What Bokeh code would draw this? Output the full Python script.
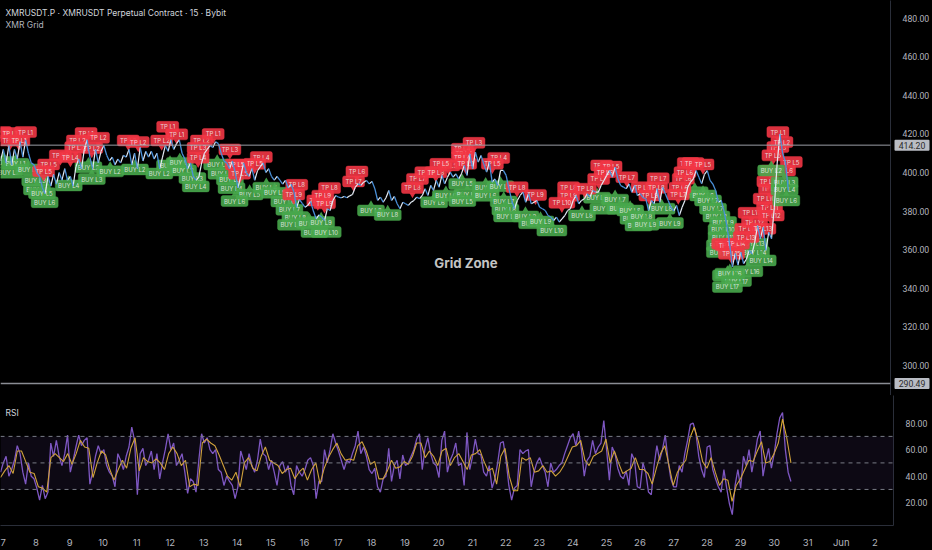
import numpy as np
from bokeh.plotting import figure
from bokeh.layouts import column, row
from bokeh.models import Range1d, FixedTicker, Span, BoxAnnotation, Label
from bokeh.core.properties import value
from bokeh.embed import file_html
from bokeh.resources import INLINE

title_text = "XMRUSDT.P · XMRUSDT Perpetual Contract · 15 · Bybit"
study_text = "XMR Grid"
zone_text = "Grid Zone"
rsi_text = "RSI"
upper_level = 414.20
lower_level = 290.49
price_ticks = [300, 320, 340, 360, 380, 400, 420, 440, 460, 480]
rsi_ticks = [20, 40, 60, 80]
rsi_guides = [30, 50, 70]
day_ticks = list(range(7, 34))
day_names = {32: "Jun", 33: "2"}

close = [406,412,405,414,404,412,407,416,408,417,410,405,404,400,398,392,389,398,393,399,394,400,396,402,396,398,393,403,407,402,412,417,408,402,412,405,411,414,409,406,408,404,407,405,409,408,412,404,410,402,413,406,411,408,411,407,410,402,408,414,411,417,412,415,417,410,407,402,405,398,396,397.6,405,410,412,414,413,416,415,410,406,405,402,406,400,392,398,405,400,398,402,396,401,403,405,400,402,398,396,398,396,394,396,392,394,390,382,386,384,382,383,385,380,376,378,
376.9,375.1,381.2,380.3,385.5,388.1,387.2,386.9,387.6,386.9,387.9,388.6,392.4,394.1,393.3,395,395.9,394.1,395.4,391.6,385.5,387.2,384.6,386.9,390.7,385.5,387.6,383.8,381.2,384.6,383.8,382.9,384.6,385.5,387.2,386.4,388.1,391.6,388.1,393.3,390.7,395.9,392.4,398.5,394.1,397.6,400.2,397.6,399.3,396.7,399.3,403.7,398.5,409.7,401.9,410.6,405.4,408.8,404.5,400.2,405.4,395,396.7,393.3,401.1,401.1,398.5,391.6,385.5,381.2,385.5,388.1,389.8,384.6,389,383.8,384.6,385.5,382,381.2,380.3,377.7,376.9,375.1,376.9,374.3,376,377.7,380.3,381.2,385.5,388.1,383.8,385.5,386.4,389,387.2,390.7,389.8,389.8,393.3,395.9,398.5,401.1,397.6,402.8,396.7,393.3,392.4,391.6,394.1,389.8,393.3,388.1,
389,387,386.4,380.3,385.5,383.8,391.6,384.6,392.4,389,385.5,382,380,382.9,377.7,382,385.5,392.4,395,396.7,401,397.6,394.2,399,401,395.9,394,390.7,384.6,385.5,380,372.5,363,351,358,352,358.7,352.7,355,359.6,357.8,363.9,372.5,365.6,371.7,359.6,369,365.6,382,404.5,420,409.7,405.4,390.7]

rsi = [43,50,55,40,45,52,63,57,43,34,50,40,38,31,22,33,23,28,65,55,67,55,48,57,71,43,52,62,71,63,67,69,34,43,55,63,57,60,48,43,40,32,57,52,45,55,62,77,67,26,57,61,48,52,59,45,57,38,50,60,72,60,65,48,52,57,43,27,38,36,28,52,72,65,69,60,57,60,45,43,33,40,36,33,23,32,59,52,45,57,48,43,52,68,57,55,45,52,43,33,48,51,43,48,33,26,48,43,40,45,52,54,48,23,36,
36,60,50,60,72,65,59,52,45,52,50,57,63,74,57,62,55,45,42,46,32,28,38,40,61,36,48,52,38,56,48,50,55,60,68,72,45,61,69,57,50,48,39,67,74,43,52,57,65,48,50,33,73,45,55,68,57,56,43,40,48,31,38,50,65,66,52,33,22,31,33,60,57,59,60,32,43,50,54,48,43,32,50,43,45,48,50,57,63,69,72,63,74,60,40,52,55,67,57,62,65,82,60,37,62,57,46,40,38,44,33,57,52,32,31,
50,43,28,26,48,63,52,60,71,52,38,32,32,48,43,57,67,79,80,72,55,45,39,62,63,45,38,32,28,45,31,19,11,33,45,31,55,48,60,43,55,68,74,40,52,61,46,57,72,84,88,60,43,36]

rsi_avg = [39,44,48,42,59,59,51,43,42,32,31,28,54,57,54,51,57,49,57,67,62,61,39,50,59,56,45,37,45,52,46,61,69,44,54,51,50,53,50,45,57,62,57,48,52,32,34,33,65,68,65,63,56,48,40,37,43,32,50,54,46,44,55,62,52,50,48,42,45,46,38,43,46,37,45,50,34,
46,54,60,65,57,52,53,52,63,66,59,49,51,38,38,44,52,46,47,51,49,55,65,65,54,59,55,48,59,61,48,54,57,51,45,56,57,60,51,44,46,34,55,61,40,29,29,54,52,54,43,44,48,43,44,40,43,48,55,62,63,67,52,48,55,57,59,68,50,59,50,42,44,46,54,45,
45,42,34,46,57,63,48,33,43,48,52,69,77,66,51,46,54,43,33,38,37,21,33,38,45,52,51,59,66,50,51,57,65,83,69,50]

buy_days = [7.04,7.39,7.19,7.78,7.98,8.03,8.18,8.26,8.98,9.67,9.57,10.22,10.96,11.69,12.01,12.30,12.40,12.68,12.78,13.42,13.55,13.80,13.85,14.39,13.94,14.89,15.14,15.43,15.58,15.76,15.63,16.18,16.33,16.68,16.53,18.02,18.52,19.91,20.26,20.90,20.75,20.75,21.45,21.45,21.89,21.99,22.04,22.09,22.64,22.84,23.09,23.43,24.33,24.97,24.78,25.32,25.47,25.77,25.87,26.02,26.11,26.23,26.71,26.96,27.70,27.95,28.10,28.25,28.35,28.55,28.55,28.55,28.50,28.50,29.44,29.49,29.69,29.29,28.68,28.75,28.95,28.68]
buy_prices = [405.4,404.5,399.9,401.6,395.9,391.2,389.3,384.6,393.3,396.6,402.8,400.6,401.6,399.5,403.7,405,401.1,397.1,392.8,404.2,399.4,396.4,391.9,388.6,385.2,392.1,389.5,385,380.7,376.9,372.9,373.8,369.1,369.1,374.3,380.3,378,384.6,388,388.6,385.2,394.1,392.4,387.9,392.9,385,380.7,377.2,377.2,373.7,374.6,369.9,377.7,381.2,386.9,385.9,381.2,380.3,376,372.5,377.2,372.9,381.2,373.8,389.8,388.1,385.5,381.2,377.2,374.3,370.3,366.5,362.2,358.7,363,358.7,354.4,348.8,346.6,347.5,343.7,340.6]
buy_levels = [1,1,2,3,3,4,5,6,4,3,2,2,2,2,1,1,2,3,4,1,2,3,4,5,6,4,5,6,7,8,9,8,9,10,9,8,8,6,6,5,5,5,6,6,6,7,8,8,9,9,9,10,8,7,6,7,7,8,8,9,8,9,8,9,5,6,7,7,8,9,10,11,12,13,13,14,14,16,16,16,17,17]

tp_days = [6.94,7.22,7.69,7.22,7.49,8.73,9.03,8.38,8.23,9.50,9.24,9.87,9.19,9.67,10.76,11.06,11.76,11.94,12.21,12.95,13.30,12.85,13.80,12.85,14.74,14.19,14.54,13.99,14.09,15.80,15.71,16.43,16.78,16.58,16.63,17.60,17.50,19.26,19.41,19.66,19.96,20.35,20.11,20.75,21.10,20.80,20.75,20.85,21.84,21.65,22.39,22.94,23.93,23.93,23.73,24.43,24.92,25.20,24.83,25.67,25.02,26.61,26.13,26.56,26.36,27.26,27.21,27.36,27.41,27.51,27.65,27.95,28.60,28.70,28.95,28.80,29.24,29.29,29.49,29.39,29.74,29.99,29.94,29.84,29.94,29.89,29.99,30.04,30.19,30.59,30.39,30.19,30.31]
tp_prices = [421,420.5,421,416.6,416.6,408.9,408,404.2,400.7,420.5,416.6,418,413.2,412.7,416.6,415.8,416.6,423.7,419.8,416.6,420,412.8,412,407.7,408,404,404.5,404.2,399.4,393.6,388.6,385.5,392,388,384,400.5,395.4,392,396.7,400.2,400.2,403.7,404.5,412.3,415.4,409.7,408,404.5,407.6,404.5,392.4,388.4,392.4,388,384.3,391.6,403.7,403.1,396.7,397.6,400.2,397,392.4,392.1,388.1,392.1,388.6,396.8,400.2,404.9,404.9,404.2,363,362.2,363,357.8,366.5,370.8,374.3,379.1,370.8,377.7,382,386.4,391.6,395.4,401,408.9,413.2,405.4,401,421,415.8]
tp_levels = [1,1,1,1,1,4,4,5,5,1,2,2,2,2,2,2,2,1,1,2,1,3,3,4,4,5,5,5,5,8,9,9,8,9,9,6,7,8,7,6,6,5,5,4,3,4,4,5,4,5,8,9,8,9,10,8,5,5,7,7,6,7,8,8,9,6,7,6,6,5,5,5,14,14,14,15,13,12,12,11,13,12,11,10,9,8,7,5,3,5,6,1,2]

late_buy_days = [30.39,30.39,30.44,29.99]
late_buy_prices = [395,391,385.5,401]
late_buy_levels = [3,4,6,2]

BG = "#000000"
AXIS = "#2a2e39"
TXT = "#b2b5be"
FONT = value("Inter")


def style(fig):
    fig.background_fill_color = None
    fig.border_fill_color = None
    fig.outline_line_color = None
    fig.outline_line_width = 0
    fig.grid.visible = False
    yax = fig.yaxis[0]
    yax.axis_line_color = AXIS
    yax.major_tick_line_color = None
    yax.minor_tick_line_color = None
    yax.major_label_text_color = TXT
    yax.major_label_text_font = "Roboto"
    yax.major_label_text_font_size = "8.7px"
    yax.major_label_standoff = 6


def flag(fig, d, pr, txt, color, alpha, w, up):
    tip = pr + 3.5 if up else pr - 3.5
    fig.scatter([d], [tip], marker="triangle" if up else "inverted_triangle", size=6,
                fill_color=color, fill_alpha=alpha, line_color=None)
    fig.rect([d], [pr], width=w, height=11, width_units="screen", height_units="screen",
             fill_color=color, fill_alpha=alpha, line_color=color, line_alpha=0.4, border_radius=2)
    fig.text([d], [pr], text=[txt], text_align="center", text_baseline="middle",
             text_font=FONT, text_font_size="6px", text_color="#f0f0f0", text_alpha=0.85)


x_range = Range1d(6.94, 33.557)
y_main = Range1d(284.3, 489.26)
main = figure(width=932, height=395, x_range=x_range, y_range=y_main,
              output_backend="svg", toolbar_location=None, x_axis_location=None, y_axis_location="right",
              min_border_left=0, min_border_top=0, min_border_bottom=0, min_border_right=39)
style(main)
main.yaxis[0].ticker = FixedTicker(ticks=price_ticks)
main.yaxis[0].major_label_overrides = {t: f"{t:.2f}" for t in price_ticks}

for d, pr, lv in zip(buy_days, buy_prices, buy_levels):
    flag(main, d, pr, f"BUY L{lv}", "#48a84c", 0.9, 30 if lv >= 10 else 27, True)
for d, pr, lv in zip(tp_days, tp_prices, tp_levels):
    flag(main, d, pr, f"TP L{lv}", "#f23645", 0.9, 26 if lv >= 10 else 22, False)
for d, pr, lv in zip(late_buy_days, late_buy_prices, late_buy_levels):
    flag(main, d, pr, f"BUY L{lv}", "#48a84c", 0.9, 27, True)

xs = np.linspace(6.94, 30.5, len(close))
c = np.array(close, dtype=float)
up = c[1:] >= c[:-1]
main.segment(xs[:-1][up], c[:-1][up], xs[1:][up], c[1:][up], line_color="#e4ecf6", line_width=1.2)
main.segment(xs[:-1][~up], c[:-1][~up], xs[1:][~up], c[1:][~up], line_color="#4a90d9", line_width=1.3)

main.add_layout(Span(location=upper_level, dimension="width", line_color="#9a9da5", line_width=1))
main.add_layout(Span(location=lower_level, dimension="width", line_color="#8a8d94", line_width=1.5))
main.text([20.86], [352.8], text=[zone_text], text_align="center", text_baseline="middle",
          text_font=FONT, text_font_size="13.2px", text_font_style="bold", text_color="#c4c4c4")
main.add_layout(Label(x=7.09, y=483, text=title_text, text_font="Inter", text_font_size="8.5px",
                      text_color="#d1d4dc", text_baseline="middle"))
main.add_layout(Label(x=7.09, y=476.5, text=study_text, text_font="Inter", text_font_size="8.5px",
                      text_color="#b2b5be", text_baseline="middle"))

tags = figure(width=39, height=395, x_range=Range1d(0, 39), y_range=y_main,
              output_backend="svg", toolbar_location=None, x_axis_location=None, y_axis_location=None,
              min_border_left=0, min_border_top=0, min_border_bottom=0, min_border_right=0,
              margin=(0, 0, 0, -39))
tags.background_fill_alpha = 0
tags.border_fill_alpha = 0
tags.outline_line_color = None
tags.grid.visible = False
tag_values = [upper_level, lower_level]
tags.rect([18.5, 18.5], tag_values, width=35, height=11, width_units="screen", height_units="screen",
          fill_color="#b9bcc4", line_color=None, border_radius=1)
tags.text([18.5, 18.5], tag_values, text=[f"{v:.2f}" for v in tag_values], text_align="center",
          text_baseline="middle", text_font=value("Roboto"), text_font_size="8.7px", text_color="#2a2a2a")

osc = figure(width=932, height=155, x_range=x_range, y_range=Range1d(2.8, 100.84),
             output_backend="svg", toolbar_location=None, y_axis_location="right",
             min_border_left=0, min_border_top=0, min_border_bottom=20, min_border_right=39)
style(osc)
osc.yaxis[0].ticker = FixedTicker(ticks=rsi_ticks)
osc.yaxis[0].major_label_overrides = {t: f"{t:.2f}" for t in rsi_ticks}
xax = osc.xaxis[0]
xax.ticker = FixedTicker(ticks=day_ticks)
xax.major_label_overrides = day_names
xax.axis_line_color = AXIS
xax.major_tick_line_color = None
xax.minor_tick_line_color = None
xax.major_label_text_color = TXT
xax.major_label_text_font = "Inter"
xax.major_label_text_font_size = "9.5px"
xax.major_label_standoff = 5

osc.add_layout(BoxAnnotation(bottom=rsi_guides[0], top=rsi_guides[2], fill_color="#7e57c2", fill_alpha=0.1, line_color=None))
for g in rsi_guides:
    osc.add_layout(Span(location=g, dimension="width", line_color="#787b86", line_width=1, line_dash="4 4"))
osc.line(np.linspace(6.94, 30.5, len(rsi)), rsi, line_color="#7e57c2", line_width=1.3)
osc.line(np.linspace(6.94, 30.5, len(rsi_avg)), rsi_avg, line_color="#d9aa2c", line_width=1.1)
osc.add_layout(Label(x=7.09, y=87.5, text=rsi_text, text_font="Inter", text_font_size="8.5px",
                     text_color="#d1d4dc", text_baseline="middle"))

page = column(row(main, tags, spacing=0), osc, spacing=0, styles={"background-color": BG})
html = file_html(page, INLINE)
open("out.html", "w").write(html)
